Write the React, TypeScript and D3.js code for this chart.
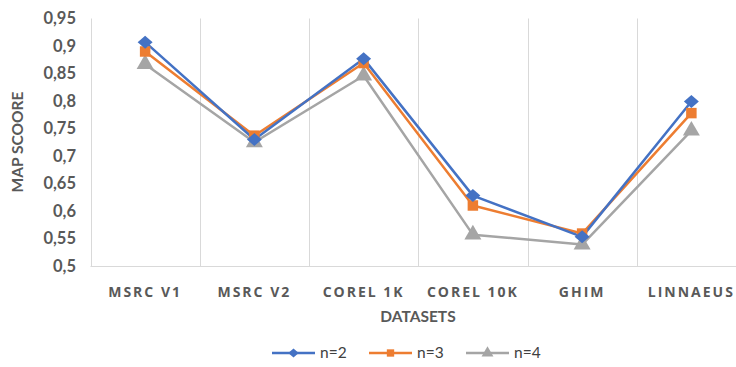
import React, { useEffect, useRef } from 'react'
import * as d3 from 'd3'

const categories = ['MSRC V1', 'MSRC V2', 'COREL 1K', 'COREL 10K', 'GHIM', 'LINNAEUS']
const n2 = [0.907, 0.730, 0.877, 0.628, 0.553, 0.799]
const n3 = [0.890, 0.737, 0.869, 0.610, 0.559, 0.778]
const n4 = [0.867, 0.725, 0.846, 0.557, 0.539, 0.746]
const seriesNames = ['n=2', 'n=3', 'n=4']
const yTicks = [0.5, 0.55, 0.6, 0.65, 0.7, 0.75, 0.8, 0.85, 0.9, 0.95]

const colors = ['#4472C4', '#ED7D31', '#A5A5A5']
const symbols = [d3.symbolDiamond, d3.symbolSquare, d3.symbolTriangle]

export default function App() {
  const node = useRef<SVGSVGElement>(null)

  useEffect(() => {
    const svg = d3.select(node.current)
    svg.selectAll('*').remove()

    const left = 90.5, right = 746, top = 18.5, bottom = 266
    const x = d3.scaleBand().domain(categories).range([left, right])
    const y = d3.scaleLinear().domain([0.5, 0.95]).range([bottom, top])

    // vertical gridlines between categories
    const bounds = categories.map(c => x(c)!).concat([right])
    svg.append('g').selectAll('line').data(bounds).enter().append('line')
      .attr('x1', d => Math.round(d) + 0.5).attr('x2', d => Math.round(d) + 0.5)
      .attr('y1', top).attr('y2', bottom)
      .attr('stroke', '#D9D9D9').attr('stroke-width', 1)

    svg.append('line')
      .attr('x1', left).attr('x2', right).attr('y1', bottom + 0.5).attr('y2', bottom + 0.5)
      .attr('stroke', '#D9D9D9').attr('stroke-width', 1)

    // y tick labels
    svg.append('g').selectAll('text').data(yTicks).enter().append('text')
      .attr('x', 76).attr('y', d => y(d)).attr('dy', '0.35em')
      .attr('text-anchor', 'end')
      .attr('font-family', 'Lato').attr('font-weight', 'bold').attr('font-size', 16.5)
      .attr('fill', '#595959')
      .text(d => d3.format('')(d).replace('.', ','))

    // category labels
    svg.append('g').selectAll('text').data(categories).enter().append('text')
      .attr('x', d => x(d)! + x.bandwidth() / 2).attr('y', 292).attr('dy', '0.35em')
      .attr('text-anchor', 'middle')
      .attr('font-family', 'Open Sans').attr('font-weight', 'bold').attr('font-size', 14)
      .attr('letter-spacing', 2)
      .attr('fill', '#595959')
      .text(d => d)

    svg.append('text')
      .attr('transform', 'translate(18,142) rotate(-90)')
      .attr('text-anchor', 'middle').attr('dy', '0.35em')
      .attr('font-family', 'Lato').attr('font-weight', 'bold').attr('font-size', 15.5)
      .attr('fill', '#595959')
      .text('MAP SCOORE')

    svg.append('text')
      .attr('x', 418).attr('y', 317).attr('text-anchor', 'middle').attr('dy', '0.35em')
      .attr('font-family', 'Lato').attr('font-weight', 'bold').attr('font-size', 15.5)
      .attr('fill', '#595959')
      .text('DATASETS')

    const data = [n2, n3, n4]
    const cx = (i: number) => x(categories[i])! + x.bandwidth() / 2
    const line = d3.line<number>()
      .x((d, i) => cx(i))
      .y(d => y(d))

    // Excel-style squat diamond
    const diamond = (r: number) => 'M0,' + (-r) + 'L' + (r * 1.15) + ',0L0,' + r + 'L' + (-r * 1.15) + ',0Z'
    const marker = (s: number, scale: number) =>
      s === 0 ? diamond(6.5 * scale) : d3.symbol().type(symbols[s]).size((s === 1 ? 110 : 125) * scale * scale)()

    // draw n=4 first so n=2 sits on top like the source
    const order = [2, 1, 0]
    order.forEach(s => {
      svg.append('path').datum(data[s])
        .attr('d', line)
        .attr('fill', 'none')
        .attr('stroke', colors[s]).attr('stroke-width', 2.5)
        .attr('stroke-linejoin', 'round')
    })
    order.forEach(s => {
      svg.append('g').selectAll('path').data(data[s]).enter().append('path')
        .attr('transform', (d, i) => 'translate(' + cx(i) + ',' + y(d) + ')')
        .attr('d', marker(s, 1))
        .attr('fill', colors[s])
    })

    // legend
    const legendX = [272, 369, 466]
    seriesNames.forEach((name, s) => {
      const g = svg.append('g').attr('transform', 'translate(' + legendX[s] + ',353)')
      g.append('line').attr('x1', 0).attr('x2', 43).attr('y1', 0).attr('y2', 0)
        .attr('stroke', colors[s]).attr('stroke-width', 2.5)
      g.append('path')
        .attr('transform', 'translate(21.5,0)')
        .attr('d', marker(s, 0.7))
        .attr('fill', colors[s])
      g.append('text').attr('x', 48).attr('y', 0).attr('dy', '0.35em')
        .attr('font-family', 'Lato').attr('font-size', 15.5)
        .attr('fill', '#404040')
        .text(name)
    })
  }, [])

  return (
    <svg ref={node} width={736} height={367} style={{ position: 'absolute', left: 0, top: 0, background: '#fff' }}>
    </svg>
  )
}
